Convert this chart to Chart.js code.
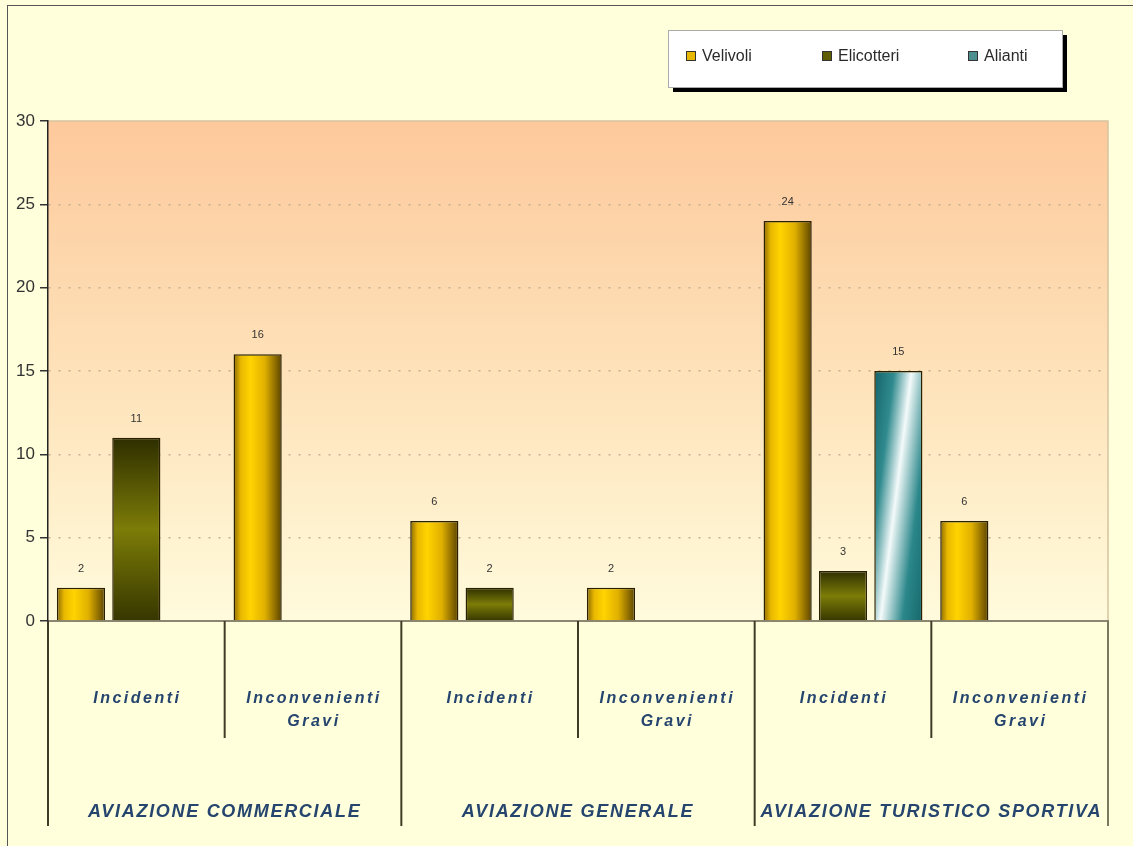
<!DOCTYPE html>
<html>
<head>
<meta charset="utf-8">
<script src="https://cdn.jsdelivr.net/npm/chart.js@4"></script>
<style>
    body { margin: 0; background: #ffffdc; }
    canvas { display: block; }
</style>
</head>
<body>
<canvas id="grafico" width="1133" height="846"></canvas>
<script>
// categorie (due livelli) e valori
const sottoCategorie = ['Incidenti', 'Inconvenienti Gravi', 'Incidenti', 'Inconvenienti Gravi', 'Incidenti', 'Inconvenienti Gravi'];
const gruppi = ['AVIAZIONE COMMERCIALE', 'AVIAZIONE GENERALE', 'AVIAZIONE TURISTICO SPORTIVA'];
const velivoli = [2, 16, 6, 2, 24, 6];
const elicotteri = [11, null, 2, null, 3, null];
const alianti = [null, null, null, null, 15, null];
const tickY = [0, 5, 10, 15, 20, 25, 30];

const CAT_PCT = 0.94;
const BAR_PCT = 0.87;

// posizione della barra calcolata dalle scale (serve solo per i gradienti)
function geometriaBarra(ctx) {
    const chart = ctx.chart;
    const x = chart.scales.x, y = chart.scales.y;
    const larghezzaCat = (x.right - x.left) / x.ticks.length;
    const gruppo = larghezzaCat * CAT_PCT;
    const passo = gruppo / 3;
    const centro = x.getPixelForValue(ctx.dataIndex) - gruppo / 2 + passo * (ctx.datasetIndex + 0.5);
    const w = passo * BAR_PCT;
    const v = ctx.raw || 0;
    return { left: centro - w / 2, right: centro + w / 2, top: y.getPixelForValue(v), base: y.getPixelForValue(0) };
}

function coloreVelivoli(ctx) {
    if (!ctx.chart.chartArea || ctx.type !== 'data') return '#f0c000';
    const g = geometriaBarra(ctx);
    const grad = ctx.chart.ctx.createLinearGradient(g.left, 0, g.right, 0);
    grad.addColorStop(0, '#8a6800');
    grad.addColorStop(0.15, '#e8b800');
    grad.addColorStop(0.35, '#ffd400');
    grad.addColorStop(0.65, '#e0b000');
    grad.addColorStop(1, '#5c4400');
    return grad;
}

function coloreElicotteri(ctx) {
    if (!ctx.chart.chartArea || ctx.type !== 'data') return '#6b6b00';
    const g = geometriaBarra(ctx);
    const grad = ctx.chart.ctx.createLinearGradient(0, g.top, 0, g.base);
    grad.addColorStop(0, '#2e2e00');
    grad.addColorStop(0.5, '#7c7c08');
    grad.addColorStop(1, '#363600');
    return grad;
}

function coloreAlianti(ctx) {
    if (!ctx.chart.chartArea || ctx.type !== 'data') return '#3a8a8c';
    const g = geometriaBarra(ctx);
    const w = g.right - g.left, h = Math.max(g.base - g.top, 1);
    // banda bianca in diagonale: dal basso a sinistra verso l'alto a destra
    const dx = h, dy = 0.65 * w;
    const t = 1.65 * w * h / (dx * dx + dy * dy);
    const grad = ctx.chart.ctx.createLinearGradient(g.left, g.top, g.left + t * dx, g.top + t * dy);
    grad.addColorStop(0, '#15646a');
    grad.addColorStop(0.25, '#2f8a8e');
    grad.addColorStop(0.47, '#f4fafa');
    grad.addColorStop(0.75, '#2a878a');
    grad.addColorStop(1, '#17686c');
    return grad;
}

const sfondo = {
    id: 'sfondo',
    beforeDraw(chart) {
        const c = chart.ctx, a = chart.chartArea;
        c.save();
        c.fillStyle = '#ffffdc';
        c.fillRect(0, 0, chart.width, chart.height);
        const grad = c.createLinearGradient(0, a.top, 0, a.bottom);
        grad.addColorStop(0, '#fdc99c');
        grad.addColorStop(0.55, '#fee4bc');
        grad.addColorStop(1, '#fffbdc');
        c.fillStyle = grad;
        c.fillRect(a.left, a.top, a.right - a.left, a.bottom - a.top);
        c.strokeStyle = '#d8c3a0';
        c.lineWidth = 1.5;
        c.beginPath();
        c.moveTo(a.left, a.top);
        c.lineTo(a.right, a.top);
        c.lineTo(a.right, a.bottom);
        c.stroke();
        // cornice esterna
        c.strokeStyle = '#555';
        c.lineWidth = 1;
        c.strokeRect(7.5, 5.5, 1300, 1000);
        c.restore();
    }
};

const etichette = {
    id: 'etichette',
    afterDatasetsDraw(chart) {
        const c = chart.ctx;
        c.save();
        c.font = '11px Arial, "Liberation Sans", sans-serif';
        c.fillStyle = '#333';
        c.textAlign = 'center';
        c.textBaseline = 'middle';
        chart.data.datasets.forEach((ds, i) => {
            chart.getDatasetMeta(i).data.forEach((el, j) => {
                if (ds.data[j] == null) return;
                c.fillText(ds.data[j], el.x, el.y - 19);
            });
        });
        c.restore();
    },
    afterDraw(chart) {
        const c = chart.ctx, x = chart.scales.x, a = chart.chartArea;
        const n = sottoCategorie.length;
        const passo = (a.right - a.left) / n;
        c.save();
        // linee divisorie dell'asse categorie
        c.lineWidth = 2;
        for (let i = 0; i <= n; i++) {
            const px = a.left + passo * i;
            const lungo = i % 2 === 0;
            c.strokeStyle = i === n ? '#7d7860' : '#3f3b26';
            c.beginPath();
            c.moveTo(px, a.bottom);
            c.lineTo(px, lungo ? 826 : 738);
            c.stroke();
        }
        c.fillStyle = '#25456e';
        c.textAlign = 'center';
        c.textBaseline = 'middle';
        c.font = 'italic bold 16px Arial, "Liberation Sans", sans-serif';
        c.letterSpacing = '2.5px';
        sottoCategorie.forEach((t, i) => {
            const cx = x.getPixelForValue(i);
            const righe = t === 'Inconvenienti Gravi' ? ['Inconvenienti', 'Gravi'] : [t];
            righe.forEach((r, k) => c.fillText(r, cx + 1, 699 + k * 23));
        });
        c.font = 'italic bold 18px Arial, "Liberation Sans", sans-serif';
        c.letterSpacing = '1.7px';
        gruppi.forEach((t, i) => {
            const cx = a.left + passo * (2 * i + 1);
            c.fillText(t, cx, 812);
        });
        c.restore();
    }
};

const legenda = {
    id: 'legenda',
    afterDraw(chart) {
        const c = chart.ctx;
        const bx = 668, by = 30, bw = 394, bh = 57;
        c.save();
        c.fillStyle = '#000';
        c.fillRect(bx + 5, by + 5, bw, bh);
        c.fillStyle = '#fff';
        c.fillRect(bx, by, bw, bh);
        c.strokeStyle = '#aaa';
        c.lineWidth = 1;
        c.strokeRect(bx + 0.5, by + 0.5, bw, bh);
        const voci = [
            { x: 686, col: '#e6b800' },
            { x: 822, col: '#5e5e00' },
            { x: 968, col: '#4d8f8f' }
        ];
        c.font = '16px Arial, "Liberation Sans", sans-serif';
        c.textBaseline = 'middle';
        chart.data.datasets.forEach((ds, i) => {
            const v = voci[i];
            c.fillStyle = v.col;
            c.fillRect(v.x, 51, 10, 10);
            c.strokeStyle = '#333';
            c.strokeRect(v.x + 0.5, 51.5, 9, 9);
            c.fillStyle = '#2a2a2a';
            c.fillText(ds.label, v.x + 16, 57);
        });
        c.restore();
    }
};

new Chart(document.getElementById('grafico'), {
    type: 'bar',
    data: {
        labels: sottoCategorie,
        datasets: [
            { label: 'Velivoli', data: velivoli, backgroundColor: coloreVelivoli },
            { label: 'Elicotteri', data: elicotteri, backgroundColor: coloreElicotteri },
            { label: 'Alianti', data: alianti, backgroundColor: coloreAlianti }
        ]
    },
    options: {
        responsive: false,
        animation: false,
        devicePixelRatio: 1,
        layout: { padding: { top: 121, right: 25, left: 0, bottom: 0 } },
        datasets: {
            bar: {
                categoryPercentage: CAT_PCT,
                barPercentage: BAR_PCT,
                borderColor: '#2a2000',
                borderWidth: 1.5
            }
        },
        plugins: {
            legend: { display: false },
            tooltip: { enabled: false }
        },
        scales: {
            x: {
                grid: { display: false },
                ticks: { display: false },
                border: { display: true, color: '#8a8670', width: 2 },
                afterFit(scale) { scale.height = 225; }
            },
            y: {
                min: 0,
                max: 30,
                afterBuildTicks(scale) { scale.ticks = tickY.map(v => ({ value: v })); },
                ticks: {
                    font: { size: 17, family: 'Arial, "Liberation Sans", sans-serif' },
                    color: '#333',
                    padding: 5
                },
                grid: {
                    color: ctx => (ctx.tick && (ctx.tick.value === 0 || ctx.tick.value === 30)) ? 'rgba(0,0,0,0)' : '#c4b092',
                    tickColor: '#333',
                    tickLength: 8,
                    lineWidth: 1.5
                },
                border: { display: true, color: '#222', width: 1.5, dash: [2, 8] },
                afterFit(scale) { scale.width = 48; }
            }
        }
    },
    plugins: [sfondo, etichette, legenda]
});
</script>
</body>
</html>
